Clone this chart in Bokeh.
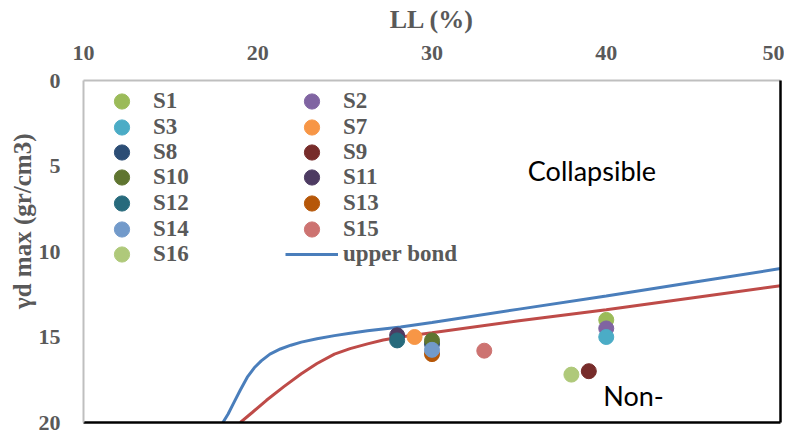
from bokeh.plotting import figure
from bokeh.models import Range1d, Legend, LegendItem, Label, FixedTicker, LinearAxis, Title
from bokeh.embed import file_html
from bokeh.resources import INLINE

# ---- data ----
samples = ["S1", "S2", "S3", "S7", "S8", "S9", "S10", "S11", "S12", "S13", "S14", "S15", "S16"]
ll_values = [40, 40, 40, 29, 30, 39, 30, 28, 28, 30, 30, 33, 38]
gamma_values = [14.0, 14.5, 15.0, 15.0, 15.4, 17.0, 15.2, 14.9, 15.2, 16.0, 15.75, 15.8, 17.2]

upper_ll = [18, 18.3, 18.6, 19.0, 19.4, 19.8, 20.2, 20.7, 21.3, 21.9, 22.5, 23.4, 24.4,
            25.3, 26.3, 28.2, 30, 35, 40, 45, 50]
upper_gamma = [20, 19.5, 18.9, 18.1, 17.35, 16.8, 16.4, 16.0, 15.7, 15.48, 15.3, 15.1, 14.92,
               14.78, 14.64, 14.42, 14.15, 13.37, 12.6, 11.8, 11.0]

lower_ll = [19, 19.7, 20.5, 21.5, 22.5, 23.4, 24.4, 25.3, 26.3, 27.2, 28.2, 30, 35, 40, 45, 50]
lower_gamma = [20, 19.4, 18.7, 17.9, 17.15, 16.55, 16.0, 15.68, 15.4, 15.18, 15.0, 14.75,
               14.05, 13.4, 12.7, 12.0]

x_ticks = [10, 20, 30, 40, 50]
y_ticks = [0, 5, 10, 15, 20]

col1 = ["S1", "S3", "S8", "S10", "S12", "S14", "S16"]
col2 = ["S2", "S7", "S9", "S11", "S13", "S15", "upper bond"]

# ---- styles ----
palette = ["#9BBB59", "#8064A2", "#4BACC6", "#F79646", "#2C4D75", "#772C2A", "#5F7530",
           "#4D3B62", "#276A7C", "#B65708", "#729ACA", "#CD7371", "#AFC97A"]
GRAY = "#595959"
SERIF = "Liberation Serif"
FRAME_H = 342

p = figure(frame_width=697, frame_height=FRAME_H, output_backend="svg", toolbar_location=None,
           x_range=Range1d(10, 50), y_range=Range1d(20, 0),
           x_axis_location="above",
           min_border_left=83, min_border_top=80, min_border_right=4, min_border_bottom=8)

p.grid.visible = False
p.outline_line_color = None

for ax in (p.xaxis[0], p.yaxis[0]):
    ax.axis_line_color = "#BFBFBF"
    ax.axis_line_width = 2
    ax.major_tick_line_color = None
    ax.minor_tick_line_color = None
    ax.major_tick_out = 0
    ax.major_tick_in = 0
    ax.major_label_text_font = SERIF
    ax.major_label_text_font_style = "bold"
    ax.major_label_text_font_size = "22px"
    ax.major_label_text_color = GRAY
    ax.axis_label_text_font = SERIF
    ax.axis_label_text_font_style = "bold"
    ax.axis_label_text_font_size = "26px"
    ax.axis_label_text_color = GRAY

p.xaxis.ticker = FixedTicker(ticks=x_ticks)
p.yaxis.ticker = FixedTicker(ticks=y_ticks)
p.xaxis.axis_label = "LL (%)"
p.xaxis.major_label_standoff = 21
p.xaxis.axis_label_standoff = 9
p.yaxis.major_label_standoff = 23

# y-axis title as a side title, aligned toward the top like the original
p.add_layout(Title(text="γd max (gr/cm3)", align="right", offset=53, standoff=0,
                   text_font=SERIF, text_font_style="bold", text_font_size="25px",
                   text_color=GRAY), "left")

# black right and bottom frame edges
for side in ("right", "below"):
    a = LinearAxis(ticker=FixedTicker(ticks=[]), axis_line_color="black", axis_line_width=2.5,
                   major_tick_line_color=None, minor_tick_line_color=None,
                   major_tick_out=0, major_tick_in=0, major_label_standoff=0)
    p.add_layout(a, side)

# curves
upper = p.line(upper_ll, upper_gamma, line_color="#4A7EBB", line_width=3)
p.line(lower_ll, lower_gamma, line_color="#BE4B48", line_width=3)

# points
rends = {}
for name, xv, yv, c in zip(samples, ll_values, gamma_values, palette):
    rends[name] = p.scatter([xv], [yv], size=15, fill_color=c, line_color=c)
rends["upper bond"] = upper

# legend: one single-row legend per entry, laid out in two columns
ROW0, PITCH, GH = 21, 25.5, 38   # first row centre below frame top, row pitch, glyph box
for col_x, names in ((12, col1), (202, col2)):
    for i, n in enumerate(names):
        centre = ROW0 + PITCH * i
        loc_y = round(FRAME_H - centre - GH / 2)
        lg = Legend(items=[LegendItem(label=n, renderers=[rends[n]])], location=(col_x, loc_y),
                    glyph_width=53, glyph_height=GH, label_height=GH, spacing=0,
                    padding=0, margin=0, border_line_color=None, background_fill_alpha=0,
                    label_standoff=5, label_text_font=SERIF, label_text_font_style="bold",
                    label_text_font_size="23px", label_text_color=GRAY)
        p.add_layout(lg)

p.add_layout(Label(x=35.5, y=5.26, text="Collapsible", text_font="Lato", text_font_size="27px",
                   text_color="black", text_baseline="middle", text_align="left"))
p.add_layout(Label(x=39.83, y=18.42, text="Non-", text_font="Lato", text_font_size="27px",
                   text_color="black", text_baseline="middle", text_align="left"))

open("out.html", "w").write(file_html(p, INLINE))
